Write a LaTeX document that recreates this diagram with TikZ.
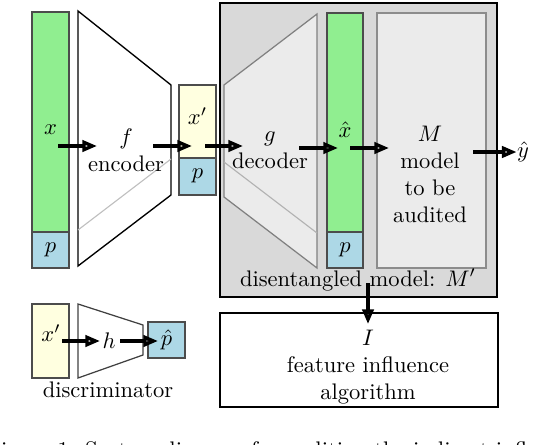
\documentclass[tikz,border=0pt]{standalone}
\usetikzlibrary{arrows.meta}
\definecolor{lgreen}{HTML}{90EE90}
\definecolor{lblue}{HTML}{ADD8E6}
\definecolor{lyellow}{HTML}{FFFFE0}
\definecolor{boxgray}{HTML}{D9D9D9}
\definecolor{panelgray}{HTML}{EBEBEB}
\begin{document}
\begin{tikzpicture}[x=0.444pt,y=-0.444pt,
  cell/.style={draw=black!70, line width=0.55pt},
  arr/.style={line width=1.5pt, -{Triangle[open,length=6.5pt,width=5pt]}},
  lbl/.style={inner sep=0pt, align=center},
  heavy/.style={draw=black, line width=1.3pt}]
\useasboundingbox (0,0) rectangle (538,444);

% input x and p
\draw[cell, fill=lgreen] (32,12) rectangle (69,232);
\draw[cell, fill=lblue] (32,232) rectangle (69,268);
\node[lbl] (xlab) at (50.5,130) {$x$};
\node[lbl] (plab1) at (50.5,250) {$p$};

% encoder
\draw[black, line width=0.6pt] (78,11) -- (171,85) -- (171,195) -- (78,266) -- cycle;
\draw[black!25, line width=0.5pt] (78,230) -- (171,159);
\node[lbl] (enc) at (126,150) {$f$\\encoder};

% latent x'
\draw[cell, fill=lyellow] (179,85) rectangle (216,158);
\draw[cell, fill=lblue] (179,158) rectangle (216,195);
\node[lbl] (xplab) at (197.5,116) {$x'$};
\node[lbl] (plab2) at (197.5,176) {$p$};

% disentangled model container
\draw[heavy, fill=boxgray] (220,3) rectangle (497,297);

% decoder
\draw[black!50, line width=0.55pt, fill=panelgray] (224,85) -- (317,14) -- (317,268) -- (224,197) -- cycle;
\draw[black!30, line width=0.5pt] (224,162) -- (317,233);
\node[lbl] (dec) at (270,150) {$g$\\decoder};

% reconstructed x hat
\draw[cell, fill=lgreen] (327,13) rectangle (363,232);
\draw[cell, fill=lblue] (327,232) rectangle (363,268);
\node[lbl] (xhlab) at (345,130) {$\hat{x}$};
\node[lbl] (plab3) at (345,250) {$p$};

% model to be audited
\draw[black!45, line width=0.55pt, fill=panelgray] (377,13) rectangle (486,268);
\node[lbl] (mod) at (430,174) {$M$\\model\\to be\\audited};

\node[lbl] (yhat) at (523,152) {$\hat{y}$};
\node[lbl, anchor=base] (dmlab) at (358,286) {disentangled model: $M'$};

% feature influence box
\draw[heavy] (220,313) rectangle (498,407);
\node[lbl] (inf) at (368,367) {$I$\\feature influence\\algorithm};

% discriminator
\draw[cell, fill=lyellow] (32,304) rectangle (69,378);
\draw[black!75, line width=0.55pt] (78,304) -- (143,325) -- (143,355) -- (78,378) -- cycle;
\draw[cell, fill=lblue] (148,322) rectangle (185,358);
\node[lbl] (xplab2) at (51,333) {$x'$};
\node[lbl] (hlab) at (109,341) {$h$};
\node[lbl] (phlab) at (166.5,340) {$\hat{p}$};
\node[lbl] (disc) at (108,390) {discriminator};

% arrow end points
\coordinate (a1s) at (58,146);  \coordinate (a1e) at (97,146);
\coordinate (a2s) at (153,146); \coordinate (a2e) at (192,146);
\coordinate (a3s) at (205,146); \coordinate (a3e) at (243,146);
\coordinate (a4s) at (299,148); \coordinate (a4e) at (338,148);
\coordinate (a5s) at (350,148); \coordinate (a5e) at (389,148);
\coordinate (a6s) at (473,152);
\coordinate (a7s) at (368,283); \coordinate (a7e) at (368,324);
\coordinate (a8s) at (62,341);  \coordinate (a8e) at (100,341);
\coordinate (a9s) at (120,341); \coordinate (a9e) at (158,341);

\draw[arr] (a1s) -- (a1e);
\draw[arr] (a2s) -- (a2e);
\draw[arr] (a3s) -- (a3e);
\draw[arr] (a4s) -- (a4e);
\draw[arr] (a5s) -- (a5e);
\draw[arr] (a6s) -- (yhat.west);
\draw[arr] (a7s) -- (a7e);
\draw[arr] (a8s) -- (a8e);
\draw[arr] (a9s) -- (a9e);

% clipped caption
\node[inner sep=0pt, anchor=base west] (cap) at (-14,457) {Figure 1: System diagram for auditing the indirect influence of};
\end{tikzpicture}
\end{document}
